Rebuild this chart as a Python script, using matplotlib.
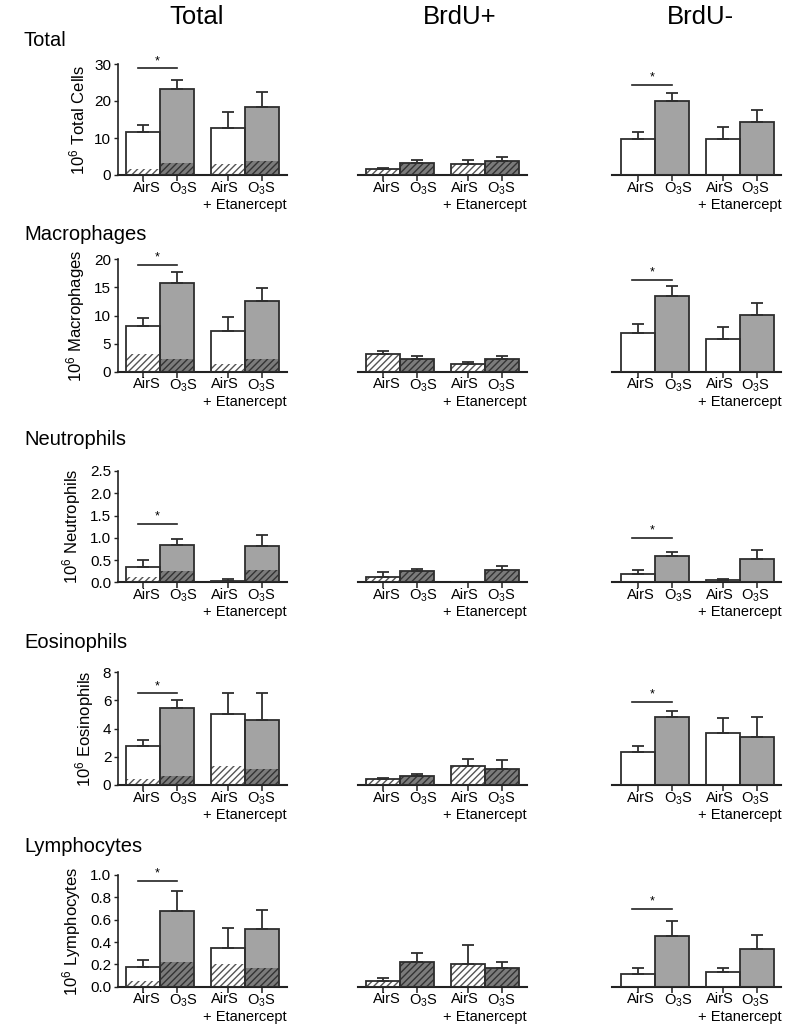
import matplotlib
matplotlib.use("Agg")
import matplotlib.pyplot as plt
from matplotlib.transforms import blended_transform_factory

plt.rcParams['font.family'] = ['Liberation Sans', 'DejaVu Sans']
plt.rcParams['mathtext.fontset'] = 'custom'
plt.rcParams['mathtext.rm'] = 'Liberation Sans'
plt.rcParams['mathtext.it'] = 'Liberation Sans:italic'
plt.rcParams['mathtext.bf'] = 'Liberation Sans:bold'
plt.rcParams['hatch.linewidth'] = 1.0

# ---------------- data ----------------
column_titles = ['Total', 'BrdU+', 'BrdU-']
row_titles = ['Total', 'Macrophages', 'Neutrophils', 'Eosinophils', 'Lymphocytes']
ylabels = ['Total Cells', 'Macrophages', 'Neutrophils', 'Eosinophils', 'Lymphocytes']
group_labels = ['AirS', r'O$_{3}$S', 'AirS', r'O$_{3}$S']
treatment_label = '+ Etanercept'

y_max = [30, 20, 2.5, 8, 1.0]
y_ticks = [[0, 10, 20, 30], [0, 5, 10, 15, 20], [0.0, 0.5, 1.0, 1.5, 2.0, 2.5],
           [0, 2, 4, 6, 8], [0.0, 0.2, 0.4, 0.6, 0.8, 1.0]]
y_ticklabels = [['0', '10', '20', '30'], ['0', '5', '10', '15', '20'],
                ['0.0', '0.5', '1.0', '1.5', '2.0', '2.5'],
                ['0', '2', '4', '6', '8'], ['0.0', '0.2', '0.4', '0.6', '0.8', '1.0']]

total_mean = [[11.5, 23.3, 12.8, 18.5], [8.1, 15.7, 7.3, 12.5], [0.34, 0.845, 0.04, 0.815],
              [2.77, 5.49, 5.02, 4.6], [0.173, 0.678, 0.343, 0.513]]
total_sem = [[1.9, 2.5, 4.1, 3.9], [1.5, 2.0, 2.5, 2.4], [0.16, 0.125, 0.03, 0.255],
             [0.43, 0.51, 1.54, 1.96], [0.063, 0.182, 0.185, 0.171]]
brdu_pos_mean = [[1.7, 3.3, 2.9, 3.8], [3.1, 2.3, 1.4, 2.2], [0.13, 0.26, 0.0, 0.27],
                 [0.4, 0.62, 1.35, 1.17], [0.052, 0.22, 0.205, 0.17]]
brdu_pos_sem = [[0.3, 0.7, 1.15, 1.15], [0.65, 0.45, 0.4, 0.65], [0.1, 0.03, 0.0, 0.095],
                [0.12, 0.14, 0.53, 0.6], [0.024, 0.086, 0.17, 0.054]]
brdu_neg_mean = [[9.8, 19.9, 9.7, 14.4], [6.9, 13.4, 5.9, 10.1], [0.19, 0.59, 0.045, 0.53],
                 [2.37, 4.85, 3.67, 3.43], [0.113, 0.454, 0.131, 0.34]]
brdu_neg_sem = [[1.7, 2.2, 3.3, 3.2], [1.5, 1.8, 2.1, 2.1], [0.08, 0.08, 0.025, 0.19],
                [0.43, 0.43, 1.06, 1.42], [0.052, 0.132, 0.034, 0.122]]
sig_total = [28.8, 19.0, 1.31, 6.5, 0.95]
sig_brdu_neg = [24.3, 16.3, 0.99, 5.9, 0.695]

# ---------------- style ----------------
x_pos = [0, 1, 2.5, 3.5]
label_shift = [0.1, 0.2, -0.08, -0.03]
fill_colors = ['white', '#a3a3a3', 'white', '#a3a3a3']
hatch_fill = ['white', '#7b7b7b', 'white', '#7b7b7b']
hatch_colors = ['#555555', '#333333', '#555555', '#333333']
edge = '#2e2e2e'

W, H = 800, 1025
fig = plt.figure(figsize=(W / 100, H / 100), dpi=100)

baselines = [175, 371.7, 582.3, 785, 986.7]
tops = [64, 259.3, 471, 672.3, 875]
col_left = [117.5, 357.5, 612]
ax_w = 169


def draw_bars(ax, means, sems, mode, hatch_vals=None):
    for i, x in enumerate(x_pos):
        if mode == 'pos':
            ax.bar(x, means[i], width=1.0, color=hatch_fill[i], edgecolor=hatch_colors[i],
                   hatch='/////', linewidth=0, zorder=2)
        else:
            ax.bar(x, means[i], width=1.0, color=fill_colors[i], linewidth=0, zorder=2)
            if hatch_vals is not None:
                ax.bar(x, hatch_vals[i], width=1.0, color=hatch_fill[i], edgecolor=hatch_colors[i],
                       hatch='/////', linewidth=0, zorder=2)
        ax.bar(x, means[i], width=1.0, fill=False, edgecolor=edge, linewidth=1.3, zorder=3)
        if sems[i] > 0:
            ax.errorbar(x, means[i], yerr=[[0], [sems[i]]], fmt='none', ecolor=edge,
                        elinewidth=1.3, capsize=4.5, capthick=1.3, zorder=3)


def style_axes(ax, r, show_y):
    ax.set_xlim(-0.75, 4.22)
    ax.set_ylim(0, y_max[r])
    ax.patch.set_alpha(0)
    for s in ['top', 'right']:
        ax.spines[s].set_visible(False)
    ax.spines['bottom'].set_linewidth(1.5)
    ax.spines['bottom'].set_color('#222222')
    ax.set_xticks(x_pos)
    ax.set_xticklabels([])
    ax.tick_params(axis='x', direction='out', length=4, width=1.1, color='#222222')
    if show_y:
        ax.spines['left'].set_linewidth(1.2)
        ax.spines['left'].set_color('#222222')
        ax.set_yticks(y_ticks[r])
        ax.set_yticklabels(y_ticklabels[r], fontsize=11)
        ax.tick_params(axis='y', direction='out', length=3, width=1.0, pad=1.5, color='#222222')
        ax.set_ylabel(r'10$^{6}$ ' + ylabels[r], fontsize=12, labelpad=5)
    else:
        ax.spines['left'].set_visible(False)
        ax.set_yticks([])
    trans = blended_transform_factory(ax.transData, ax.transAxes)
    for i, x in enumerate(x_pos):
        ax.annotate(group_labels[i], xy=(x + label_shift[i], 0), xycoords=trans,
                    xytext=(0, -4), textcoords='offset points', ha='center', va='top',
                    fontsize=10.5)
    ax.annotate(treatment_label, xy=(3.0, 0), xycoords=trans, xytext=(0, -16.5),
                textcoords='offset points', ha='center', va='top', fontsize=10.5)


def draw_sig(ax, y, r):
    ax.plot([-0.15, 1.0], [y, y], color='#222222', lw=1.2, zorder=3, clip_on=False)
    ax.text(0.42, y + y_max[r] * 0.012, '*', ha='center', va='bottom', fontsize=9)


for r in range(5):
    b = 1 - baselines[r] / H
    h = (baselines[r] - tops[r]) / H
    axes = []
    for c in range(3):
        ax = fig.add_axes([col_left[c] / W, b, ax_w / W, h])
        axes.append(ax)
    # Total column
    draw_bars(axes[0], total_mean[r], total_sem[r], 'total', hatch_vals=brdu_pos_mean[r])
    style_axes(axes[0], r, True)
    draw_sig(axes[0], sig_total[r], r)
    # BrdU+
    draw_bars(axes[1], brdu_pos_mean[r], brdu_pos_sem[r], 'pos')
    style_axes(axes[1], r, False)
    # BrdU-
    draw_bars(axes[2], brdu_neg_mean[r], brdu_neg_sem[r], 'neg')
    style_axes(axes[2], r, False)
    draw_sig(axes[2], sig_brdu_neg[r], r)

# column titles
col_title_x = [197, 460, 700]
for t, x in zip(column_titles, col_title_x):
    fig.text(x / W, 1 - 17 / H, t, ha='center', va='center', fontsize=18.5)

# row titles
row_title_y = [41, 235, 440, 642, 847]
for t, y in zip(row_titles, row_title_y):
    fig.text(24 / W, 1 - y / H, t, ha='left', va='center', fontsize=14.5)

fig.savefig('out.png', dpi=100, facecolor='white')
